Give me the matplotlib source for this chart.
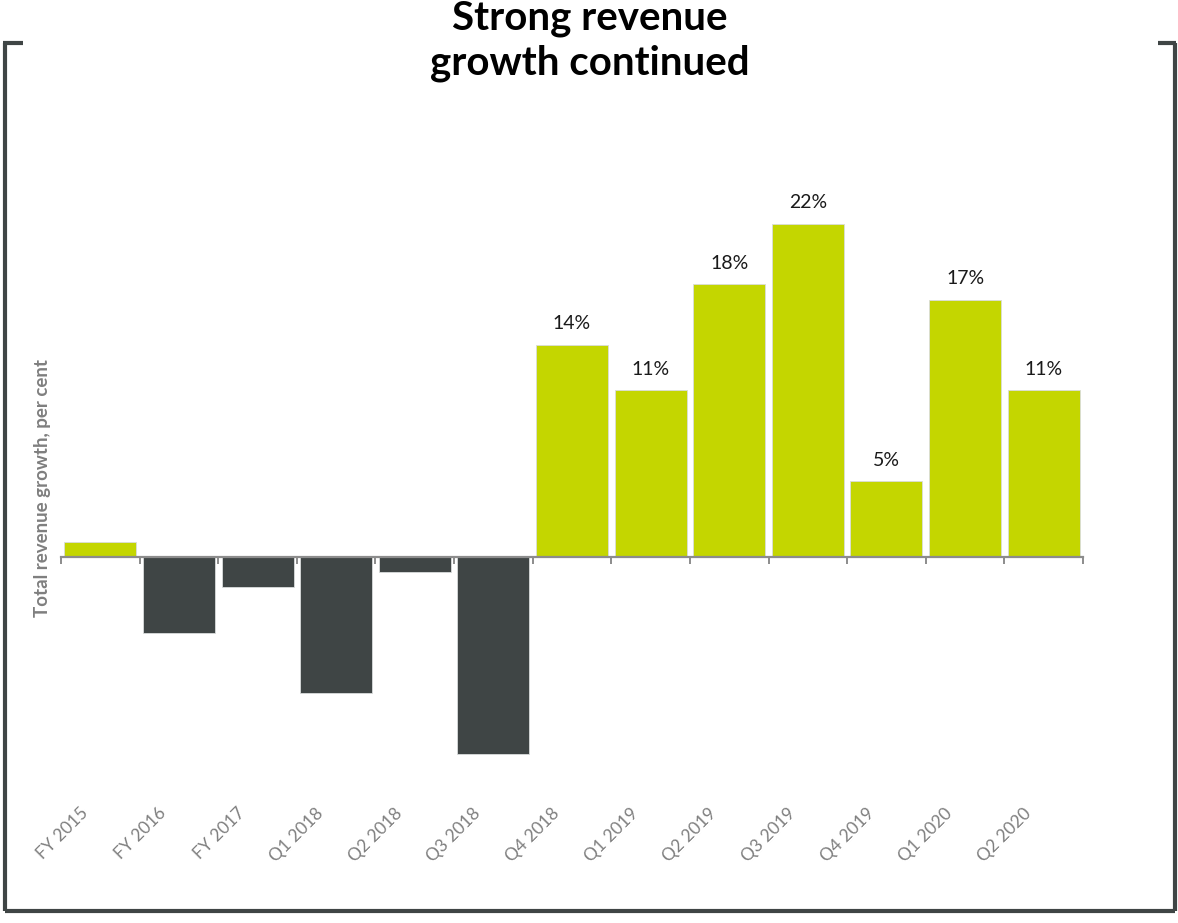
import matplotlib
matplotlib.use("Agg")
import matplotlib.pyplot as plt
from matplotlib.lines import Line2D
import matplotlib.transforms as mtransforms

plt.rcParams['font.family'] = ['Lato', 'DejaVu Sans']

periods = ["FY 2015", "FY 2016", "FY 2017", "Q1 2018", "Q2 2018", "Q3 2018", "Q4 2018",
           "Q1 2019", "Q2 2019", "Q3 2019", "Q4 2019", "Q1 2020", "Q2 2020"]
growth = [1, -5, -2, -9, -1, -13, 14, 11, 18, 22, 5, 17, 11]
labelled = [False, False, False, False, False, False, True, True, True, True, True, True, True]

GREEN = "#c4d600"
DARK = "#3f4545"
GREY = "#7f7f7f"

W, H = 1178, 923
fig = plt.figure(figsize=(W / 100, H / 100), dpi=100)

# plot area in pixels: x 61..1083, y 130..790 (zero line sits near y=557)
left, right, top, bottom = 61, 1083, 130, 790
ax = fig.add_axes([left / W, 1 - bottom / H, (right - left) / W, (bottom - top) / H])

n = len(periods)
colors = [GREEN if v >= 0 else DARK for v in growth]
xs = list(range(n))
ax.bar(xs, growth, width=0.915, color=colors, edgecolor="#d9dcdc", linewidth=0.6, zorder=2)

ax.set_xlim(-0.5, n - 0.5)
ax.set_ylim(-15.4, 28.2)

for s in ["top", "right", "left"]:
    ax.spines[s].set_visible(False)
ax.spines["bottom"].set_position(("data", 0))
ax.spines["bottom"].set_color("#8c8c8c")
ax.spines["bottom"].set_linewidth(1.6)
ax.spines["bottom"].set_zorder(3)
ax.set_yticks([])
ax.set_xticks([i - 0.5 for i in range(n + 1)])
ax.set_xticklabels([])
ax.tick_params(axis="x", direction="out", length=5, width=1.4, color="#8c8c8c")

# value labels above the growth bars
for x, v, show in zip(xs, growth, labelled):
    if show:
        ax.annotate(f"{v}%", (x, v), xytext=(0, 9), textcoords="offset points",
                    ha="center", va="bottom", fontsize=14, color="#1a1a1a")

# category labels, rotated below the chart
trans = mtransforms.blended_transform_factory(ax.transData, fig.transFigure)
for x, lab in zip(xs, periods):
    ax.text(x - 0.12, 1 - 805 / H, lab, transform=trans, rotation=45,
            ha="right", va="top", fontsize=12.5, color=GREY)

fig.text(43 / W, 1 - 488 / H, "Total revenue growth, per cent", rotation=90,
         ha="center", va="center", fontsize=13.5, fontweight="bold", color=GREY)

fig.text(590 / W, 1 - 41 / H, "Strong revenue\ngrowth continued", ha="center", va="center",
         fontsize=29, fontweight="bold", color="black", linespacing=1.22)

# bracket frame
lw = 3
fx = lambda p: p / W
fy = lambda p: 1 - p / H
frame = [
    ([fx(3), fx(23)], [fy(43), fy(43)]),
    ([fx(5), fx(5)], [fy(43), fy(911)]),
    ([fx(5), fx(1175)], [fy(911), fy(911)]),
    ([fx(1175), fx(1175)], [fy(43), fy(911)]),
    ([fx(1158), fx(1176)], [fy(43), fy(43)]),
]
for xd, yd in frame:
    fig.add_artist(Line2D(xd, yd, color=DARK, linewidth=lw, solid_capstyle="butt"))

fig.savefig("out.png", dpi=100, facecolor="white")
